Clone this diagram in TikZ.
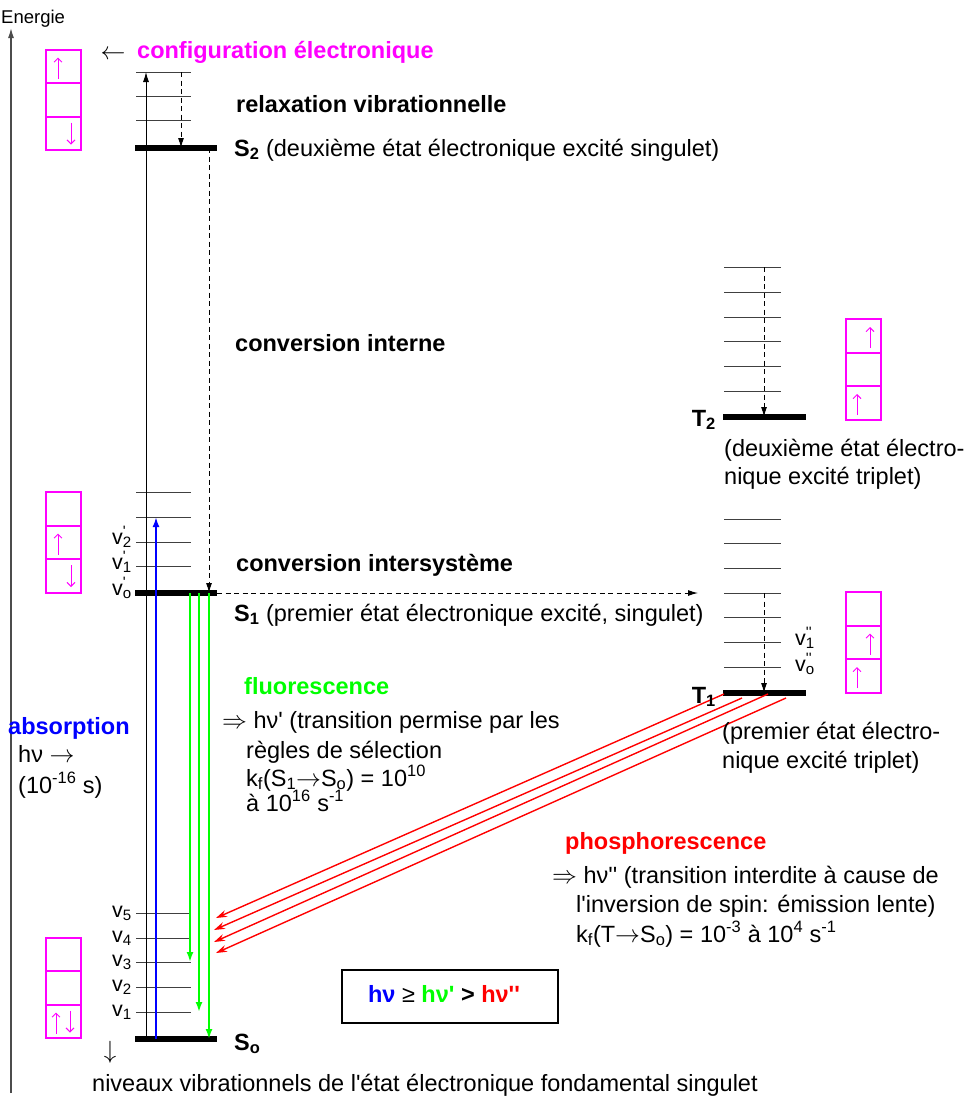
\documentclass[tikz,border=0pt]{standalone}
\usepackage{fontspec}
\setmainfont{Liberation Sans}
\usetikzlibrary{positioning,arrows.meta}

\definecolor{mag}{RGB}{255,0,255}
\definecolor{grn}{RGB}{0,255,0}
\newcommand\ap{\textquotesingle}
\newcommand\sbs[1]{\textsubscript{#1}}
\newcommand\sps[1]{\textsuperscript{#1}}

\begin{document}
\begin{tikzpicture}[x=1pt,y=-1pt,
  txt/.style={anchor=west,inner sep=0pt,font=\fontsize{23.5}{28}\selectfont,text height=17pt,text depth=5pt},
  vlab/.style={txt,font=\fontsize{21.5}{24}\selectfont,text height=10pt,text depth=3pt},
  lvl/.style={line width=0.8pt,black!75},
  state/.style={line width=5.5pt},
  dsh/.style={dash pattern=on 5pt off 3.5pt,line width=1pt,-{Latex[length=10pt,width=6pt]}},
  cell/.style={draw=mag,line width=1.7pt,minimum width=35pt,minimum height=33.5pt,inner sep=0pt,outer sep=0pt},
  spin/.style={mag,line width=0.9pt,-{Straight Barb[length=4pt,width=8pt]}},
  fluo/.style={grn,line width=2pt,-{Latex[length=10pt,width=7pt]}},
  phos/.style={red,line width=1.4pt,-{Stealth[length=11pt,width=7pt]}}]
\useasboundingbox (0,0) rectangle (968,1101);

% energy axis
\coordinate (ax0) at (11,1093);
\coordinate (ax1) at (11,28);
\draw[black!70,line width=1.3pt,-{Latex[length=10pt,width=6pt]}] (ax0) -- (ax1);
\node[txt,font=\fontsize{18.5}{22}\selectfont] (energie) at (1,17) {Energie};

% singlet levels
\foreach \y/\n in {72/c,96/b,120/a} \draw[lvl] (136,\y) coordinate (s2\n) -- (191,\y);
\foreach \y/\n in {492/d,517/c,542/b,566/a} \draw[lvl] (136,\y) coordinate (s1\n) -- (191,\y);
\foreach \y/\n in {913/5,938/4,962/3,987/2,1012/1} \draw[lvl] (136,\y) coordinate (v\n) -- (191,\y);
\draw[state] (135,148) coordinate (S2a) -- (217,148) coordinate (S2b);
\draw[state] (135,593) coordinate (S1a) -- (217,593) coordinate (S1b);
\draw[state] (135,1039) coordinate (S0a) -- (217,1039) coordinate (S0b);

% triplet levels
\foreach \y/\n in {267/f,292/e,317/d,341/c,366/b,391/a} \draw[lvl] (724,\y) coordinate (t2\n) -- (781,\y);
\foreach \y/\n in {519/g,543/f,568/e,593/d,617/c,642/b,667/a} \draw[lvl] (724,\y) coordinate (t1\n) -- (781,\y);
\draw[state] (723,417) coordinate (T2a) -- (806,417) coordinate (T2b);
\draw[state] (723,693) coordinate (T1a) -- (806,693) coordinate (T1b);

% vertical transitions
\coordinate (up0) at (146,1039);
\coordinate (up1) at (146,72);
\draw[line width=0.9pt,-{Latex[length=10pt,width=6pt]}] (up0) -- (up1);
\coordinate (rv) at (181,72);
\draw[dsh] (rv) -- (rv |- S2a);
\coordinate (ic) at (209,148);
\draw[dsh] (ic) -- (ic |- S1a);
\coordinate (isc) at (698,593);
\draw[dsh] (S1b) -- (isc);
\coordinate (rt2) at (764,267);
\draw[dsh] (rt2) -- (rt2 |- T2a);
\coordinate (rt1) at (764,593);
\draw[dsh] (rt1) -- (rt1 |- T1a);

\coordinate (ab0) at (156,1039);
\coordinate (ab1) at (156,517);
\draw[blue,line width=2pt,-{Latex[length=10pt,width=7pt]}] (ab0) -- (ab1);

\coordinate (f1) at (190,593);
\coordinate (f2) at (199,593);
\coordinate (f3) at (209,593);
\draw[fluo] (f1) -- (f1 |- v3);
\draw[fluo] (f2) -- (f2 |- v1);
\draw[fluo] (f3) -- (f3 |- S0a);

\coordinate (p1) at (724,694);
\coordinate (p2) at (742,698);
\coordinate (p3) at (768,694);
\coordinate (p4) at (786,698);
\coordinate (q1) at (216,918);
\coordinate (q2) at (214,930);
\coordinate (q3) at (214,942);
\coordinate (q4) at (216,953);
\foreach \i in {1,...,4} \draw[phos] (p\i) -- (q\i);

% electron configurations
\node[cell] (ca1) at (63.5,66.5) {};
\node[cell,below=0pt of ca1] (ca2) {};
\node[cell,below=0pt of ca2] (ca3) {};
\draw[spin] ([xshift=-5.5pt,yshift=-12pt]ca1.center) -- ([xshift=-5.5pt,yshift=9pt]ca1.center);
\draw[spin] ([xshift=7.5pt,yshift=11pt]ca3.center) -- ([xshift=7.5pt,yshift=-11pt]ca3.center);

\node[cell] (cb1) at (63.5,509) {};
\node[cell,below=0pt of cb1] (cb2) {};
\node[cell,below=0pt of cb2] (cb3) {};
\draw[spin] ([xshift=-5.5pt,yshift=-12pt]cb2.center) -- ([xshift=-5.5pt,yshift=9pt]cb2.center);
\draw[spin] ([xshift=7.5pt,yshift=11pt]cb3.center) -- ([xshift=7.5pt,yshift=-11pt]cb3.center);

\node[cell] (cc1) at (63.5,954.5) {};
\node[cell,below=0pt of cc1] (cc2) {};
\node[cell,below=0pt of cc2] (cc3) {};
\draw[spin] ([xshift=-7.5pt,yshift=-12pt]cc3.center) -- ([xshift=-7.5pt,yshift=9pt]cc3.center);
\draw[spin] ([xshift=6.5pt,yshift=11pt]cc3.center) -- ([xshift=6.5pt,yshift=-11pt]cc3.center);

\node[cell] (cd1) at (863.5,336) {};
\node[cell,below=0pt of cd1] (cd2) {};
\node[cell,below=0pt of cd2] (cd3) {};
\draw[spin] ([xshift=6.5pt,yshift=-12pt]cd1.center) -- ([xshift=6.5pt,yshift=9pt]cd1.center);
\draw[spin] ([xshift=-6.5pt,yshift=-12pt]cd3.center) -- ([xshift=-6.5pt,yshift=9pt]cd3.center);

\node[cell] (ce1) at (863.5,609) {};
\node[cell,below=0pt of ce1] (ce2) {};
\node[cell,below=0pt of ce2] (ce3) {};
\draw[spin] ([xshift=6.5pt,yshift=-12pt]ce2.center) -- ([xshift=6.5pt,yshift=9pt]ce2.center);
\draw[spin] ([xshift=-6.5pt,yshift=-12pt]ce3.center) -- ([xshift=-6.5pt,yshift=9pt]ce3.center);

% labels
\node[txt,anchor=center] (cfgarr) at (113,53) {$\leftarrow$};
\node[txt,mag] (cfg) at (137,52) {\textbf{configuration électronique}};
\node[txt] (relax) at (236,106) {\textbf{relaxation vibrationnelle}};
\node[txt] (s2lab) at (234,150) {\textbf{S\sbs{2}} (deuxième état électronique excité singulet)};
\node[txt] (conv) at (235,345) {\textbf{conversion interne}};
\node[txt] (inter) at (236,565) {\textbf{conversion intersystème}};
\node[txt] (s1lab) at (234,615) {\textbf{S\sbs{1}} (premier état électronique excité, singulet)};
\node[txt] (s0lab) at (234,1044) {\textbf{S\sbs{o}}};

\node[vlab,anchor=east] (lv2) at (132,541) {v\rlap{\sps{\ap}}\sbs{2}};
\node[vlab,anchor=east] (lv1) at (132,566) {v\rlap{\sps{\ap}}\sbs{1}};
\node[vlab,anchor=east] (lv0) at (132,592) {v\rlap{\sps{\ap}}\sbs{o}};
\foreach \n in {1,...,5} \node[vlab,anchor=east] (lab\n) at ([xshift=-4pt,yshift=-1pt]v\n) {v\sbs{\n}};
\node[txt,anchor=center] (down) at (110,1052) {$\downarrow$};
\node[txt] (niv) at (92,1085) {niveaux vibrationnels de l\ap état électronique fondamental singulet};

\node[txt,anchor=east] (t2lab) at (716,420) {\textbf{T\sbs{2}}};
\node[txt] (t2d1) at (724,450) {(deuxième état électro-};
\node[txt] (t2d2) at (724,478) {nique excité triplet)};
\node[txt,anchor=east] (t1lab) at (716,697) {\textbf{T\sbs{1}}};
\node[txt] (t1d1) at (722,733) {(premier état électro-};
\node[txt] (t1d2) at (722,762) {nique excité triplet)};
\node[vlab] (w1) at (795,642) {v\rlap{\sps{\ap\ap}}\sbs{1}};
\node[vlab] (w0) at (795,668) {v\rlap{\sps{\ap\ap}}\sbs{o}};

\node[txt,blue] (abs) at (8,728) {\textbf{absorption}};
\node[txt] (abs1) at (18,756) {hν $\rightarrow$};
\node[txt] (abs2) at (18,787) {(10\sps{-16} s)};

\node[txt,grn] (fluor) at (244,688) {\textbf{fluorescence}};
\node[txt] (fl1) at (222,722) {$\Rightarrow$ hν\ap{} (transition permise par les};
\node[txt] (fl2) at (246,752) {règles de sélection};
\node[txt] (fl3) at (246,780) {k\sbs{f}(S\sbs{1}$\rightarrow$S\sbs{o}) = 10\sps{10}};
\node[txt] (fl4) at (246,805) {à 10\sps{16} s\sps{-1}};

\node[txt,red] (phosph) at (565,843) {\textbf{phosphorescence}};
\node[txt] (ph1) at (552,877) {$\Rightarrow$ hν\ap\ap{} (transition interdite à cause de};
\node[txt] (ph2) at (576,906) {l\ap inversion de spin: émission lente)};
\node[txt] (ph3) at (576,936) {k\sbs{f}(T$\rightarrow$S\sbs{o}) = 10\sps{-3} à 10\sps{4} s\sps{-1}};

\node[draw,line width=2.5pt,minimum width=216pt,minimum height=53pt] (cmp) at (450,996.5) {};
\node[txt,anchor=center] (cmptxt) at (444,996) {\textbf{\color{blue}hν} ≥ \textbf{\color{grn}hν\ap} \textbf{>} \textbf{\color{red}hν\ap\ap}};
\end{tikzpicture}
\end{document}
